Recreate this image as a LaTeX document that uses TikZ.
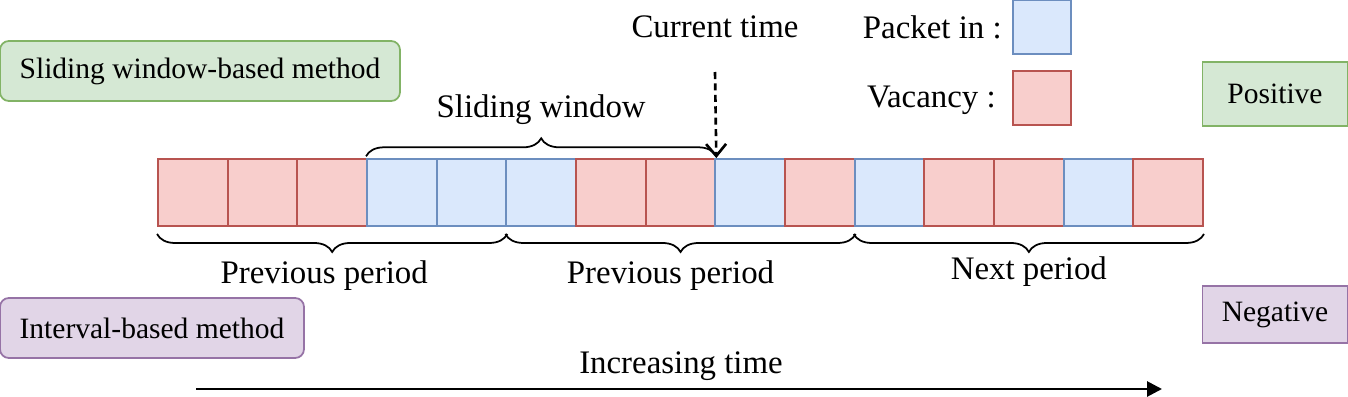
\documentclass[tikz,border=0pt]{standalone}
\usepackage{fontspec}
\setmainfont{Liberation Serif}
\usetikzlibrary{arrows.meta, positioning, decorations.pathreplacing}
\definecolor{pktfill}{HTML}{DAE8FC}
\definecolor{pktdraw}{HTML}{6C8EBF}
\definecolor{vacfill}{HTML}{F8CECC}
\definecolor{vacdraw}{HTML}{B85450}
\definecolor{posfill}{HTML}{D5E8D4}
\definecolor{posdraw}{HTML}{82B366}
\definecolor{negfill}{HTML}{E1D5E7}
\definecolor{negdraw}{HTML}{9673A6}
\tikzset{
  cellB/.style={rectangle, draw=pktdraw, fill=pktfill, line width=1.1pt,
    minimum width=1.393cm, minimum height=1.34cm, inner sep=0pt},
  cellR/.style={cellB, draw=vacdraw, fill=vacfill},
  method/.style={rectangle, rounded corners=5pt, line width=1pt,
    minimum height=1.2cm, inner sep=0pt, font=\fontsize{16.8}{20}\selectfont},
  methodG/.style={method, draw=posdraw, fill=posfill},
  methodP/.style={method, draw=negdraw, fill=negfill},
  tag/.style={rectangle, line width=1pt, minimum width=2.9cm, inner sep=0pt,
    font=\fontsize{16.8}{20}\selectfont},
  lbl/.style={font=\fontsize{18.7}{22}\selectfont, inner sep=0pt},
  brc/.style={decorate, decoration={brace, amplitude=0.36cm}, line width=1pt},
}
\begin{document}
\begin{tikzpicture}[x=0.02cm, y=-0.02cm]
\useasboundingbox (0,0) rectangle (1348,396);
% time slots
\foreach \c [count=\i] in {R,R,R,B,B,B,R,R,B,R,B,R,R,B,R}
  \node[cell\c] (cell\i) at ({158+69.67*(\i-0.5)},192.5) {};
% legend
\node[cellB, minimum width=1.16cm, minimum height=1.08cm] (pktbox) at (1042,27) {};
\node[cellR, minimum width=1.16cm, minimum height=1.08cm] (vacbox) at (1042,98) {};
\node[lbl, anchor=east] (pktlbl) at (1002,27) {Packet in :};
\node[lbl, anchor=east] (vaclbl) at (996,100) {Vacancy :};
% method boxes
\node[methodG, minimum width=8cm] (swm) at (200,71) {Sliding window-based method};
\node[methodP, minimum width=6.08cm] (ivm) at (152,328) {Interval-based method};
\node[tag, draw=posdraw, fill=posfill, minimum height=1.28cm] (pos) at (1275,94) {Positive};
\node[tag, draw=negdraw, fill=negfill, minimum height=1.14cm] (neg) at (1275,314.5) {Negative};
% sliding window
\draw[brc] ([yshift=1pt]cell4.north west) -- ([yshift=1pt]cell8.north east)
  node[lbl, midway, above=0.62cm] (swlbl) {Sliding window};
\node[lbl] (curlbl) at (715,27) {Current time};
\coordinate (curtop) at (715,72);
\draw[-{Straight Barb[length=2.4mm, width=4mm]}, dash pattern=on 4pt off 2.5pt, line width=1.5pt]
  (curtop) -- (cell8.north east);
% periods
\draw[brc] ([yshift=-4pt]cell5.south east) -- ([yshift=-4pt]cell1.south west)
  node[lbl, midway, below=0.52cm, xshift=-0.16cm] (prev1) {Previous period};
\draw[brc] ([yshift=-4pt]cell10.south east) -- ([yshift=-4pt]cell6.south west)
  node[lbl, midway, below=0.52cm, xshift=-0.2cm] (prev2) {Previous period};
\draw[brc] ([yshift=-4pt]cell15.south east) -- ([yshift=-4pt]cell11.south west)
  node[lbl, midway, below=0.44cm] (next) {Next period};
% time axis
\node[lbl] (inclbl) at (681,366) {Increasing time};
\coordinate (tstart) at (196,389);
\coordinate (tend) at (1162,389);
\draw[-{Triangle[length=3mm, width=3mm]}, line width=1.6pt] (tstart) -- (tend);
\end{tikzpicture}
\end{document}
